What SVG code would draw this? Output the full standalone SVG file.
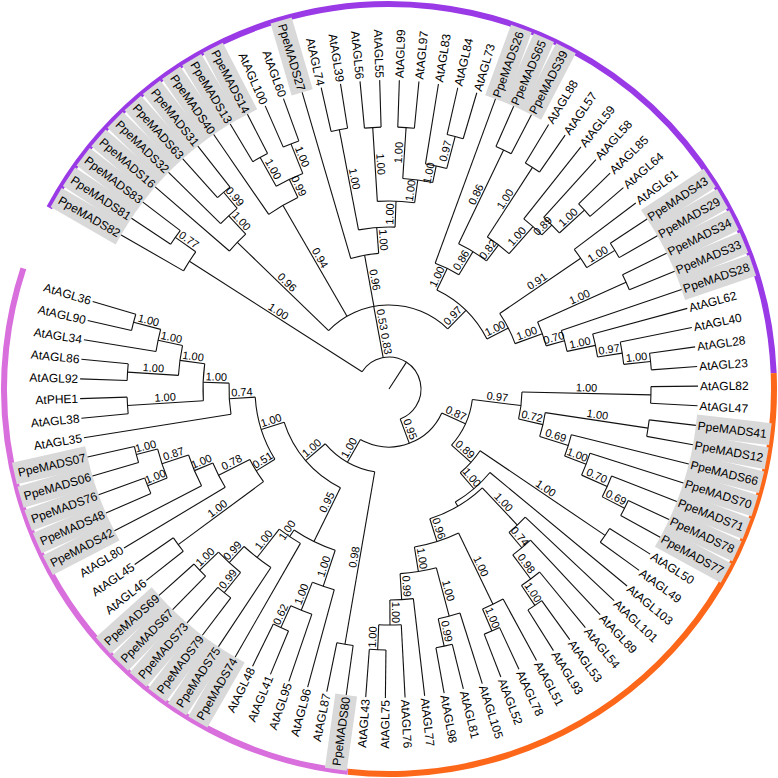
<svg xmlns="http://www.w3.org/2000/svg" width="778" height="778" viewBox="0 0 778 778">
<style>
.k circle,.k line{fill:none;stroke:#111;stroke-width:1.1}
.ring{fill:none;stroke-width:6}
.lf{font-family:"Liberation Sans",Arial,sans-serif;font-size:12px;fill:#000}
.bx{fill:#d9d9d9}
.s{font-family:"Liberation Sans",Arial,sans-serif;font-size:11px;text-anchor:middle;fill:#000}
</style>
<rect width="778" height="778" fill="#fff"/>
<g transform="translate(389,389)">
<g id="ring">
<circle class="ring" r="385" stroke="#9a3ae6" transform="rotate(-151.92)" stroke-dasharray="149.56 999" pathLength="360"/>
<circle class="ring" r="385" stroke="#fc6719" transform="rotate(-2.36)" stroke-dasharray="98.5 999" pathLength="360"/>
<circle class="ring" r="385" stroke="#d86fdc" transform="rotate(96.14)" stroke-dasharray="102.14 999" pathLength="360"/>
</g>
<g id="boxes" class="bx">
<rect x="309" y="-11" width="75" height="22" transform="rotate(-150.1)"/>
<rect x="309" y="-11" width="75" height="22" transform="rotate(-146.45)"/>
<rect x="309" y="-11" width="75" height="22" transform="rotate(-142.8)"/>
<rect x="309" y="-11" width="75" height="22" transform="rotate(-139.16)"/>
<rect x="309" y="-11" width="75" height="22" transform="rotate(-135.51)"/>
<rect x="309" y="-11" width="75" height="22" transform="rotate(-131.86)"/>
<rect x="309" y="-11" width="75" height="22" transform="rotate(-128.21)"/>
<rect x="309" y="-11" width="75" height="22" transform="rotate(-124.56)"/>
<rect x="309" y="-11" width="75" height="22" transform="rotate(-120.92)"/>
<rect x="309" y="-11" width="75" height="22" transform="rotate(-117.27)"/>
<rect x="309" y="-11" width="75" height="22" transform="rotate(-106.32)"/>
<rect x="309" y="-11" width="75" height="22" transform="rotate(-69.84)"/>
<rect x="309" y="-11" width="75" height="22" transform="rotate(-66.2)"/>
<rect x="309" y="-11" width="75" height="22" transform="rotate(-62.55)"/>
<rect x="309" y="-11" width="75" height="22" transform="rotate(-33.36)"/>
<rect x="309" y="-11" width="75" height="22" transform="rotate(-29.72)"/>
<rect x="309" y="-11" width="75" height="22" transform="rotate(-26.07)"/>
<rect x="309" y="-11" width="75" height="22" transform="rotate(-22.42)"/>
<rect x="309" y="-11" width="75" height="22" transform="rotate(-18.77)"/>
<rect x="309" y="-11" width="75" height="22" transform="rotate(6.76)"/>
<rect x="309" y="-11" width="75" height="22" transform="rotate(10.41)"/>
<rect x="309" y="-11" width="75" height="22" transform="rotate(14.06)"/>
<rect x="309" y="-11" width="75" height="22" transform="rotate(17.71)"/>
<rect x="309" y="-11" width="75" height="22" transform="rotate(21.36)"/>
<rect x="309" y="-11" width="75" height="22" transform="rotate(25)"/>
<rect x="309" y="-11" width="75" height="22" transform="rotate(28.65)"/>
<rect x="309" y="-11" width="75" height="22" transform="rotate(97.96)"/>
<rect x="309" y="-11" width="75" height="22" transform="rotate(119.85)"/>
<rect x="309" y="-11" width="75" height="22" transform="rotate(123.5)"/>
<rect x="309" y="-11" width="75" height="22" transform="rotate(127.15)"/>
<rect x="309" y="-11" width="75" height="22" transform="rotate(130.8)"/>
<rect x="309" y="-11" width="75" height="22" transform="rotate(134.44)"/>
<rect x="309" y="-11" width="75" height="22" transform="rotate(138.09)"/>
<rect x="309" y="-11" width="75" height="22" transform="rotate(152.68)"/>
<rect x="309" y="-11" width="75" height="22" transform="rotate(156.33)"/>
<rect x="309" y="-11" width="75" height="22" transform="rotate(159.98)"/>
<rect x="309" y="-11" width="75" height="22" transform="rotate(163.63)"/>
<rect x="309" y="-11" width="75" height="22" transform="rotate(167.28)"/>
</g>
<g id="connectors" class="k">
<line x2="32" transform="rotate(-57)"/>
<circle r="32" transform="rotate(-147.37)" stroke-dasharray="216.87 999" pathLength="360"/>
<line x1="32" x2="237" transform="rotate(-147.37)"/>
<line x1="32" x2="84" transform="rotate(-100.48)"/>
<line x1="32" x2="58" transform="rotate(69.5)"/>
<circle r="237" transform="rotate(-150.1)" stroke-dasharray="5.47 999" pathLength="360"/>
<line x1="237" x2="309" transform="rotate(-150.1)"/>
<line x1="237" x2="262" transform="rotate(-144.63)"/>
<circle r="262" transform="rotate(-146.45)" stroke-dasharray="3.65 999" pathLength="360"/>
<line x1="262" x2="309" transform="rotate(-146.45)"/>
<line x1="262" x2="309" transform="rotate(-142.8)"/>
<circle r="84" transform="rotate(-135.96)" stroke-dasharray="90.34 999" pathLength="360"/>
<line x1="84" x2="211" transform="rotate(-135.96)"/>
<line x1="84" x2="212" transform="rotate(-120)"/>
<line x1="84" x2="136" transform="rotate(-100.34)"/>
<line x1="84" x2="110" transform="rotate(-45.62)"/>
<circle r="211" transform="rotate(-139.16)" stroke-dasharray="6.39 999" pathLength="360"/>
<line x1="211" x2="309" transform="rotate(-139.16)"/>
<line x1="211" x2="236" transform="rotate(-132.77)"/>
<circle r="236" transform="rotate(-135.51)" stroke-dasharray="5.47 999" pathLength="360"/>
<line x1="236" x2="309" transform="rotate(-135.51)"/>
<line x1="236" x2="257" transform="rotate(-130.04)"/>
<circle r="257" transform="rotate(-131.86)" stroke-dasharray="3.65 999" pathLength="360"/>
<line x1="257" x2="309" transform="rotate(-131.86)"/>
<line x1="257" x2="309" transform="rotate(-128.21)"/>
<circle r="212" transform="rotate(-124.56)" stroke-dasharray="9.12 999" pathLength="360"/>
<line x1="212" x2="309" transform="rotate(-124.56)"/>
<line x1="212" x2="232" transform="rotate(-115.44)"/>
<circle r="232" transform="rotate(-119.09)" stroke-dasharray="7.3 999" pathLength="360"/>
<line x1="232" x2="265" transform="rotate(-119.09)"/>
<line x1="232" x2="264" transform="rotate(-111.8)"/>
<circle r="265" transform="rotate(-120.92)" stroke-dasharray="3.65 999" pathLength="360"/>
<line x1="265" x2="309" transform="rotate(-120.92)"/>
<line x1="265" x2="309" transform="rotate(-117.27)"/>
<circle r="264" transform="rotate(-113.62)" stroke-dasharray="3.65 999" pathLength="360"/>
<line x1="264" x2="309" transform="rotate(-113.62)"/>
<line x1="264" x2="309" transform="rotate(-109.97)"/>
<circle r="136" transform="rotate(-106.32)" stroke-dasharray="11.97 999" pathLength="360"/>
<line x1="136" x2="309" transform="rotate(-106.32)"/>
<line x1="136" x2="162" transform="rotate(-94.35)"/>
<circle r="162" transform="rotate(-100.85)" stroke-dasharray="13 999" pathLength="360"/>
<line x1="162" x2="264" transform="rotate(-100.85)"/>
<line x1="162" x2="188" transform="rotate(-87.86)"/>
<circle r="264" transform="rotate(-102.68)" stroke-dasharray="3.65 999" pathLength="360"/>
<line x1="264" x2="309" transform="rotate(-102.68)"/>
<line x1="264" x2="309" transform="rotate(-99.03)"/>
<circle r="188" transform="rotate(-93.56)" stroke-dasharray="11.4 999" pathLength="360"/>
<line x1="188" x2="262" transform="rotate(-93.56)"/>
<line x1="188" x2="211" transform="rotate(-82.16)"/>
<circle r="262" transform="rotate(-95.38)" stroke-dasharray="3.65 999" pathLength="360"/>
<line x1="262" x2="309" transform="rotate(-95.38)"/>
<line x1="262" x2="309" transform="rotate(-91.73)"/>
<circle r="211" transform="rotate(-86.26)" stroke-dasharray="8.21 999" pathLength="360"/>
<line x1="211" x2="262" transform="rotate(-86.26)"/>
<line x1="211" x2="228" transform="rotate(-78.05)"/>
<circle r="262" transform="rotate(-88.08)" stroke-dasharray="3.65 999" pathLength="360"/>
<line x1="262" x2="309" transform="rotate(-88.08)"/>
<line x1="262" x2="309" transform="rotate(-84.44)"/>
<circle r="228" transform="rotate(-80.79)" stroke-dasharray="5.47 999" pathLength="360"/>
<line x1="228" x2="309" transform="rotate(-80.79)"/>
<line x1="228" x2="261" transform="rotate(-75.32)"/>
<circle r="261" transform="rotate(-77.14)" stroke-dasharray="3.65 999" pathLength="360"/>
<line x1="261" x2="309" transform="rotate(-77.14)"/>
<line x1="261" x2="309" transform="rotate(-73.49)"/>
<circle r="110" transform="rotate(-64.2)" stroke-dasharray="37.16 999" pathLength="360"/>
<line x1="110" x2="134" transform="rotate(-64.2)"/>
<line x1="110" x2="134" transform="rotate(-27.04)"/>
<circle r="134" transform="rotate(-69.84)" stroke-dasharray="11.28 999" pathLength="360"/>
<line x1="134" x2="309" transform="rotate(-69.84)"/>
<line x1="134" x2="161" transform="rotate(-58.56)"/>
<circle r="161" transform="rotate(-64.38)" stroke-dasharray="11.63 999" pathLength="360"/>
<line x1="161" x2="265" transform="rotate(-64.38)"/>
<line x1="161" x2="181" transform="rotate(-52.74)"/>
<circle r="265" transform="rotate(-66.2)" stroke-dasharray="3.65 999" pathLength="360"/>
<line x1="265" x2="309" transform="rotate(-66.2)"/>
<line x1="265" x2="309" transform="rotate(-62.55)"/>
<circle r="181" transform="rotate(-57.08)" stroke-dasharray="8.66 999" pathLength="360"/>
<line x1="181" x2="264" transform="rotate(-57.08)"/>
<line x1="181" x2="217" transform="rotate(-48.41)"/>
<circle r="264" transform="rotate(-58.9)" stroke-dasharray="3.65 999" pathLength="360"/>
<line x1="264" x2="309" transform="rotate(-58.9)"/>
<line x1="264" x2="309" transform="rotate(-55.25)"/>
<circle r="217" transform="rotate(-51.6)" stroke-dasharray="6.38 999" pathLength="360"/>
<line x1="217" x2="309" transform="rotate(-51.6)"/>
<line x1="217" x2="231" transform="rotate(-45.22)"/>
<circle r="231" transform="rotate(-47.96)" stroke-dasharray="5.47 999" pathLength="360"/>
<line x1="231" x2="309" transform="rotate(-47.96)"/>
<line x1="231" x2="265" transform="rotate(-42.48)"/>
<circle r="265" transform="rotate(-44.31)" stroke-dasharray="3.65 999" pathLength="360"/>
<line x1="265" x2="309" transform="rotate(-44.31)"/>
<line x1="265" x2="309" transform="rotate(-40.66)"/>
<circle r="134" transform="rotate(-34.28)" stroke-dasharray="14.48 999" pathLength="360"/>
<line x1="134" x2="232" transform="rotate(-34.28)"/>
<line x1="134" x2="163" transform="rotate(-19.8)"/>
<circle r="232" transform="rotate(-37.01)" stroke-dasharray="5.47 999" pathLength="360"/>
<line x1="232" x2="309" transform="rotate(-37.01)"/>
<line x1="232" x2="265" transform="rotate(-31.54)"/>
<circle r="265" transform="rotate(-33.36)" stroke-dasharray="3.65 999" pathLength="360"/>
<line x1="265" x2="309" transform="rotate(-33.36)"/>
<line x1="265" x2="309" transform="rotate(-29.72)"/>
<circle r="163" transform="rotate(-24.24)" stroke-dasharray="8.89 999" pathLength="360"/>
<line x1="163" x2="260" transform="rotate(-24.24)"/>
<line x1="163" x2="182" transform="rotate(-15.35)"/>
<circle r="260" transform="rotate(-26.07)" stroke-dasharray="3.65 999" pathLength="360"/>
<line x1="260" x2="309" transform="rotate(-26.07)"/>
<line x1="260" x2="309" transform="rotate(-22.42)"/>
<circle r="182" transform="rotate(-18.77)" stroke-dasharray="6.84 999" pathLength="360"/>
<line x1="182" x2="309" transform="rotate(-18.77)"/>
<line x1="182" x2="211" transform="rotate(-11.93)"/>
<circle r="211" transform="rotate(-15.12)" stroke-dasharray="6.38 999" pathLength="360"/>
<line x1="211" x2="309" transform="rotate(-15.12)"/>
<line x1="211" x2="236" transform="rotate(-8.74)"/>
<circle r="236" transform="rotate(-11.48)" stroke-dasharray="5.47 999" pathLength="360"/>
<line x1="236" x2="309" transform="rotate(-11.48)"/>
<line x1="236" x2="263" transform="rotate(-6)"/>
<circle r="263" transform="rotate(-7.83)" stroke-dasharray="3.65 999" pathLength="360"/>
<line x1="263" x2="309" transform="rotate(-7.83)"/>
<line x1="263" x2="309" transform="rotate(-4.18)"/>
<circle r="58" transform="rotate(24.51)" stroke-dasharray="95.04 999" pathLength="360"/>
<line x1="58" x2="84" transform="rotate(24.51)"/>
<line x1="58" x2="84" transform="rotate(119.55)"/>
<circle r="84" transform="rotate(7.16)" stroke-dasharray="34.7 999" pathLength="360"/>
<line x1="84" x2="133" transform="rotate(7.16)"/>
<line x1="84" x2="110" transform="rotate(41.86)"/>
<circle r="133" transform="rotate(1.29)" stroke-dasharray="11.74 999" pathLength="360"/>
<line x1="133" x2="262" transform="rotate(1.29)"/>
<line x1="133" x2="158" transform="rotate(13.03)"/>
<circle r="262" transform="rotate(-0.53)" stroke-dasharray="3.65 999" pathLength="360"/>
<line x1="262" x2="309" transform="rotate(-0.53)"/>
<line x1="262" x2="309" transform="rotate(3.12)"/>
<circle r="158" transform="rotate(8.59)" stroke-dasharray="8.89 999" pathLength="360"/>
<line x1="158" x2="262" transform="rotate(8.59)"/>
<line x1="158" x2="188" transform="rotate(17.48)"/>
<circle r="262" transform="rotate(6.76)" stroke-dasharray="3.65 999" pathLength="360"/>
<line x1="262" x2="309" transform="rotate(6.76)"/>
<line x1="262" x2="309" transform="rotate(10.41)"/>
<circle r="188" transform="rotate(14.06)" stroke-dasharray="6.84 999" pathLength="360"/>
<line x1="188" x2="309" transform="rotate(14.06)"/>
<line x1="188" x2="211" transform="rotate(20.9)"/>
<circle r="211" transform="rotate(17.71)" stroke-dasharray="6.38 999" pathLength="360"/>
<line x1="211" x2="309" transform="rotate(17.71)"/>
<line x1="211" x2="239" transform="rotate(24.09)"/>
<circle r="239" transform="rotate(21.36)" stroke-dasharray="5.47 999" pathLength="360"/>
<line x1="239" x2="309" transform="rotate(21.36)"/>
<line x1="239" x2="264" transform="rotate(26.83)"/>
<circle r="264" transform="rotate(25)" stroke-dasharray="3.65 999" pathLength="360"/>
<line x1="264" x2="309" transform="rotate(25)"/>
<line x1="264" x2="309" transform="rotate(28.65)"/>
<circle r="110" transform="rotate(34.12)" stroke-dasharray="15.48 999" pathLength="360"/>
<line x1="110" x2="261" transform="rotate(34.12)"/>
<line x1="110" x2="131" transform="rotate(49.6)"/>
<circle r="261" transform="rotate(32.3)" stroke-dasharray="3.65 999" pathLength="360"/>
<line x1="261" x2="309" transform="rotate(32.3)"/>
<line x1="261" x2="309" transform="rotate(35.95)"/>
<circle r="131" transform="rotate(39.6)" stroke-dasharray="20 999" pathLength="360"/>
<line x1="131" x2="309" transform="rotate(39.6)"/>
<line x1="131" x2="136" transform="rotate(59.6)"/>
<circle r="136" transform="rotate(46.66)" stroke-dasharray="25.88 999" pathLength="360"/>
<line x1="136" x2="187" transform="rotate(46.66)"/>
<line x1="136" x2="160" transform="rotate(72.54)"/>
<circle r="187" transform="rotate(43.24)" stroke-dasharray="6.84 999" pathLength="360"/>
<line x1="187" x2="309" transform="rotate(43.24)"/>
<line x1="187" x2="207" transform="rotate(50.08)"/>
<circle r="207" transform="rotate(46.89)" stroke-dasharray="6.38 999" pathLength="360"/>
<line x1="207" x2="309" transform="rotate(46.89)"/>
<line x1="207" x2="237" transform="rotate(53.28)"/>
<circle r="237" transform="rotate(50.54)" stroke-dasharray="5.47 999" pathLength="360"/>
<line x1="237" x2="309" transform="rotate(50.54)"/>
<line x1="237" x2="261" transform="rotate(56.01)"/>
<circle r="261" transform="rotate(54.19)" stroke-dasharray="3.65 999" pathLength="360"/>
<line x1="261" x2="309" transform="rotate(54.19)"/>
<line x1="261" x2="309" transform="rotate(57.84)"/>
<circle r="160" transform="rotate(64.22)" stroke-dasharray="16.64 999" pathLength="360"/>
<line x1="160" x2="239" transform="rotate(64.22)"/>
<line x1="160" x2="185" transform="rotate(80.86)"/>
<circle r="239" transform="rotate(61.48)" stroke-dasharray="5.47 999" pathLength="360"/>
<line x1="239" x2="309" transform="rotate(61.48)"/>
<line x1="239" x2="263" transform="rotate(66.96)"/>
<circle r="263" transform="rotate(65.13)" stroke-dasharray="3.65 999" pathLength="360"/>
<line x1="263" x2="309" transform="rotate(65.13)"/>
<line x1="263" x2="309" transform="rotate(68.78)"/>
<circle r="185" transform="rotate(75.16)" stroke-dasharray="11.4 999" pathLength="360"/>
<line x1="185" x2="235" transform="rotate(75.16)"/>
<line x1="185" x2="211" transform="rotate(86.56)"/>
<circle r="235" transform="rotate(72.43)" stroke-dasharray="5.47 999" pathLength="360"/>
<line x1="235" x2="309" transform="rotate(72.43)"/>
<line x1="235" x2="263" transform="rotate(77.9)"/>
<circle r="263" transform="rotate(76.08)" stroke-dasharray="3.65 999" pathLength="360"/>
<line x1="263" x2="309" transform="rotate(76.08)"/>
<line x1="263" x2="309" transform="rotate(79.72)"/>
<circle r="211" transform="rotate(83.37)" stroke-dasharray="6.38 999" pathLength="360"/>
<line x1="211" x2="309" transform="rotate(83.37)"/>
<line x1="211" x2="236" transform="rotate(89.76)"/>
<circle r="236" transform="rotate(87.02)" stroke-dasharray="5.47 999" pathLength="360"/>
<line x1="236" x2="309" transform="rotate(87.02)"/>
<line x1="236" x2="261" transform="rotate(92.49)"/>
<circle r="261" transform="rotate(90.67)" stroke-dasharray="3.65 999" pathLength="360"/>
<line x1="261" x2="309" transform="rotate(90.67)"/>
<line x1="261" x2="309" transform="rotate(94.32)"/>
<circle r="84" transform="rotate(99.79)" stroke-dasharray="39.53 999" pathLength="360"/>
<line x1="84" x2="259" transform="rotate(99.79)"/>
<line x1="84" x2="110" transform="rotate(139.32)"/>
<circle r="259" transform="rotate(97.96)" stroke-dasharray="3.65 999" pathLength="360"/>
<line x1="259" x2="309" transform="rotate(97.96)"/>
<line x1="259" x2="309" transform="rotate(101.61)"/>
<circle r="110" transform="rotate(116.2)" stroke-dasharray="46.23 999" pathLength="360"/>
<line x1="110" x2="170" transform="rotate(116.2)"/>
<line x1="110" x2="134" transform="rotate(162.43)"/>
<circle r="170" transform="rotate(108.45)" stroke-dasharray="15.5 999" pathLength="360"/>
<line x1="170" x2="208" transform="rotate(108.45)"/>
<line x1="170" x2="178" transform="rotate(123.96)"/>
<circle r="208" transform="rotate(105.26)" stroke-dasharray="6.38 999" pathLength="360"/>
<line x1="208" x2="309" transform="rotate(105.26)"/>
<line x1="208" x2="238" transform="rotate(111.64)"/>
<circle r="238" transform="rotate(108.91)" stroke-dasharray="5.47 999" pathLength="360"/>
<line x1="238" x2="309" transform="rotate(108.91)"/>
<line x1="238" x2="262" transform="rotate(114.38)"/>
<circle r="262" transform="rotate(112.56)" stroke-dasharray="3.65 999" pathLength="360"/>
<line x1="262" x2="309" transform="rotate(112.56)"/>
<line x1="262" x2="309" transform="rotate(116.2)"/>
<circle r="178" transform="rotate(119.85)" stroke-dasharray="8.21 999" pathLength="360"/>
<line x1="178" x2="309" transform="rotate(119.85)"/>
<line x1="178" x2="214" transform="rotate(128.06)"/>
<circle r="214" transform="rotate(123.5)" stroke-dasharray="9.12 999" pathLength="360"/>
<line x1="214" x2="309" transform="rotate(123.5)"/>
<line x1="214" x2="236" transform="rotate(132.62)"/>
<circle r="236" transform="rotate(128.97)" stroke-dasharray="7.3 999" pathLength="360"/>
<line x1="236" x2="262" transform="rotate(128.97)"/>
<line x1="236" x2="262" transform="rotate(136.27)"/>
<circle r="262" transform="rotate(127.15)" stroke-dasharray="3.65 999" pathLength="360"/>
<line x1="262" x2="309" transform="rotate(127.15)"/>
<line x1="262" x2="309" transform="rotate(130.8)"/>
<circle r="262" transform="rotate(134.44)" stroke-dasharray="3.65 999" pathLength="360"/>
<line x1="262" x2="309" transform="rotate(134.44)"/>
<line x1="262" x2="309" transform="rotate(138.09)"/>
<circle r="134" transform="rotate(148.35)" stroke-dasharray="28.16 999" pathLength="360"/>
<line x1="134" x2="156" transform="rotate(148.35)"/>
<line x1="134" x2="160" transform="rotate(176.51)"/>
<circle r="156" transform="rotate(143.56)" stroke-dasharray="9.58 999" pathLength="360"/>
<line x1="156" x2="262" transform="rotate(143.56)"/>
<line x1="156" x2="191" transform="rotate(153.14)"/>
<circle r="262" transform="rotate(141.74)" stroke-dasharray="3.65 999" pathLength="360"/>
<line x1="262" x2="309" transform="rotate(141.74)"/>
<line x1="262" x2="309" transform="rotate(145.39)"/>
<circle r="191" transform="rotate(149.04)" stroke-dasharray="8.21 999" pathLength="360"/>
<line x1="191" x2="309" transform="rotate(149.04)"/>
<line x1="191" x2="211" transform="rotate(157.24)"/>
<circle r="211" transform="rotate(152.68)" stroke-dasharray="9.12 999" pathLength="360"/>
<line x1="211" x2="309" transform="rotate(152.68)"/>
<line x1="211" x2="239" transform="rotate(161.8)"/>
<circle r="239" transform="rotate(158.16)" stroke-dasharray="7.3 999" pathLength="360"/>
<line x1="239" x2="260" transform="rotate(158.16)"/>
<line x1="239" x2="261" transform="rotate(165.45)"/>
<circle r="260" transform="rotate(156.33)" stroke-dasharray="3.65 999" pathLength="360"/>
<line x1="260" x2="309" transform="rotate(156.33)"/>
<line x1="260" x2="309" transform="rotate(159.98)"/>
<circle r="261" transform="rotate(163.63)" stroke-dasharray="3.65 999" pathLength="360"/>
<line x1="261" x2="309" transform="rotate(163.63)"/>
<line x1="261" x2="309" transform="rotate(167.28)"/>
<circle r="160" transform="rotate(170.92)" stroke-dasharray="11.17 999" pathLength="360"/>
<line x1="160" x2="309" transform="rotate(170.92)"/>
<line x1="160" x2="186" transform="rotate(182.1)"/>
<circle r="186" transform="rotate(176.4)" stroke-dasharray="11.4 999" pathLength="360"/>
<line x1="186" x2="262" transform="rotate(176.4)"/>
<line x1="186" x2="211" transform="rotate(187.8)"/>
<circle r="262" transform="rotate(174.57)" stroke-dasharray="3.65 999" pathLength="360"/>
<line x1="262" x2="309" transform="rotate(174.57)"/>
<line x1="262" x2="309" transform="rotate(178.22)"/>
<circle r="211" transform="rotate(183.69)" stroke-dasharray="8.21 999" pathLength="360"/>
<line x1="211" x2="262" transform="rotate(183.69)"/>
<line x1="211" x2="236" transform="rotate(191.9)"/>
<circle r="262" transform="rotate(181.87)" stroke-dasharray="3.65 999" pathLength="360"/>
<line x1="262" x2="309" transform="rotate(181.87)"/>
<line x1="262" x2="309" transform="rotate(185.52)"/>
<circle r="236" transform="rotate(189.16)" stroke-dasharray="5.47 999" pathLength="360"/>
<line x1="236" x2="309" transform="rotate(189.16)"/>
<line x1="236" x2="264" transform="rotate(194.64)"/>
<circle r="264" transform="rotate(192.81)" stroke-dasharray="3.65 999" pathLength="360"/>
<line x1="264" x2="309" transform="rotate(192.81)"/>
<line x1="264" x2="309" transform="rotate(196.46)"/>
</g>
<g id="leaves" class="lf">
<g id="n-PpeMADS82"><text x="-311" dy=".35em" text-anchor="end" transform="rotate(29.9)">PpeMADS82</text></g>
<g id="n-PpeMADS81"><text x="-311" dy=".35em" text-anchor="end" transform="rotate(33.55)">PpeMADS81</text></g>
<g id="n-PpeMADS83"><text x="-311" dy=".35em" text-anchor="end" transform="rotate(37.2)">PpeMADS83</text></g>
<g id="n-PpeMADS16"><text x="-311" dy=".35em" text-anchor="end" transform="rotate(40.84)">PpeMADS16</text></g>
<g id="n-PpeMADS32"><text x="-311" dy=".35em" text-anchor="end" transform="rotate(44.49)">PpeMADS32</text></g>
<g id="n-PpeMADS63"><text x="-311" dy=".35em" text-anchor="end" transform="rotate(48.14)">PpeMADS63</text></g>
<g id="n-PpeMADS31"><text x="-311" dy=".35em" text-anchor="end" transform="rotate(51.79)">PpeMADS31</text></g>
<g id="n-PpeMADS40"><text x="-311" dy=".35em" text-anchor="end" transform="rotate(55.44)">PpeMADS40</text></g>
<g id="n-PpeMADS13"><text x="-311" dy=".35em" text-anchor="end" transform="rotate(59.08)">PpeMADS13</text></g>
<g id="n-PpeMADS14"><text x="-311" dy=".35em" text-anchor="end" transform="rotate(62.73)">PpeMADS14</text></g>
<g id="n-AtAGL100"><text x="-311" dy=".35em" text-anchor="end" transform="rotate(66.38)">AtAGL100</text></g>
<g id="n-AtAGL60"><text x="-311" dy=".35em" text-anchor="end" transform="rotate(70.03)">AtAGL60</text></g>
<g id="n-PpeMADS27"><text x="-311" dy=".35em" text-anchor="end" transform="rotate(73.68)">PpeMADS27</text></g>
<g id="n-AtAGL74"><text x="-311" dy=".35em" text-anchor="end" transform="rotate(77.32)">AtAGL74</text></g>
<g id="n-AtAGL39"><text x="-311" dy=".35em" text-anchor="end" transform="rotate(80.97)">AtAGL39</text></g>
<g id="n-AtAGL56"><text x="-311" dy=".35em" text-anchor="end" transform="rotate(84.62)">AtAGL56</text></g>
<g id="n-AtAGL55"><text x="-311" dy=".35em" text-anchor="end" transform="rotate(88.27)">AtAGL55</text></g>
<g id="n-AtAGL99"><text x="311" dy=".35em" transform="rotate(-88.08)">AtAGL99</text></g>
<g id="n-AtAGL97"><text x="311" dy=".35em" transform="rotate(-84.44)">AtAGL97</text></g>
<g id="n-AtAGL83"><text x="311" dy=".35em" transform="rotate(-80.79)">AtAGL83</text></g>
<g id="n-AtAGL84"><text x="311" dy=".35em" transform="rotate(-77.14)">AtAGL84</text></g>
<g id="n-AtAGL73"><text x="311" dy=".35em" transform="rotate(-73.49)">AtAGL73</text></g>
<g id="n-PpeMADS26"><text x="311" dy=".35em" transform="rotate(-69.84)">PpeMADS26</text></g>
<g id="n-PpeMADS65"><text x="311" dy=".35em" transform="rotate(-66.2)">PpeMADS65</text></g>
<g id="n-PpeMADS39"><text x="311" dy=".35em" transform="rotate(-62.55)">PpeMADS39</text></g>
<g id="n-AtAGL88"><text x="311" dy=".35em" transform="rotate(-58.9)">AtAGL88</text></g>
<g id="n-AtAGL57"><text x="311" dy=".35em" transform="rotate(-55.25)">AtAGL57</text></g>
<g id="n-AtAGL59"><text x="311" dy=".35em" transform="rotate(-51.6)">AtAGL59</text></g>
<g id="n-AtAGL58"><text x="311" dy=".35em" transform="rotate(-47.96)">AtAGL58</text></g>
<g id="n-AtAGL85"><text x="311" dy=".35em" transform="rotate(-44.31)">AtAGL85</text></g>
<g id="n-AtAGL64"><text x="311" dy=".35em" transform="rotate(-40.66)">AtAGL64</text></g>
<g id="n-AtAGL61"><text x="311" dy=".35em" transform="rotate(-37.01)">AtAGL61</text></g>
<g id="n-PpeMADS43"><text x="311" dy=".35em" transform="rotate(-33.36)">PpeMADS43</text></g>
<g id="n-PpeMADS29"><text x="311" dy=".35em" transform="rotate(-29.72)">PpeMADS29</text></g>
<g id="n-PpeMADS34"><text x="311" dy=".35em" transform="rotate(-26.07)">PpeMADS34</text></g>
<g id="n-PpeMADS33"><text x="311" dy=".35em" transform="rotate(-22.42)">PpeMADS33</text></g>
<g id="n-PpeMADS28"><text x="311" dy=".35em" transform="rotate(-18.77)">PpeMADS28</text></g>
<g id="n-AtAGL62"><text x="311" dy=".35em" transform="rotate(-15.12)">AtAGL62</text></g>
<g id="n-AtAGL40"><text x="311" dy=".35em" transform="rotate(-11.48)">AtAGL40</text></g>
<g id="n-AtAGL28"><text x="311" dy=".35em" transform="rotate(-7.83)">AtAGL28</text></g>
<g id="n-AtAGL23"><text x="311" dy=".35em" transform="rotate(-4.18)">AtAGL23</text></g>
<g id="n-AtAGL82"><text x="311" dy=".35em" transform="rotate(-0.53)">AtAGL82</text></g>
<g id="n-AtAGL47"><text x="311" dy=".35em" transform="rotate(3.12)">AtAGL47</text></g>
<g id="n-PpeMADS41"><text x="311" dy=".35em" transform="rotate(6.76)">PpeMADS41</text></g>
<g id="n-PpeMADS12"><text x="311" dy=".35em" transform="rotate(10.41)">PpeMADS12</text></g>
<g id="n-PpeMADS66"><text x="311" dy=".35em" transform="rotate(14.06)">PpeMADS66</text></g>
<g id="n-PpeMADS70"><text x="311" dy=".35em" transform="rotate(17.71)">PpeMADS70</text></g>
<g id="n-PpeMADS71"><text x="311" dy=".35em" transform="rotate(21.36)">PpeMADS71</text></g>
<g id="n-PpeMADS78"><text x="311" dy=".35em" transform="rotate(25)">PpeMADS78</text></g>
<g id="n-PpeMADS77"><text x="311" dy=".35em" transform="rotate(28.65)">PpeMADS77</text></g>
<g id="n-AtAGL50"><text x="311" dy=".35em" transform="rotate(32.3)">AtAGL50</text></g>
<g id="n-AtAGL49"><text x="311" dy=".35em" transform="rotate(35.95)">AtAGL49</text></g>
<g id="n-AtAGL103"><text x="311" dy=".35em" transform="rotate(39.6)">AtAGL103</text></g>
<g id="n-AtAGL101"><text x="311" dy=".35em" transform="rotate(43.24)">AtAGL101</text></g>
<g id="n-AtAGL89"><text x="311" dy=".35em" transform="rotate(46.89)">AtAGL89</text></g>
<g id="n-AtAGL54"><text x="311" dy=".35em" transform="rotate(50.54)">AtAGL54</text></g>
<g id="n-AtAGL53"><text x="311" dy=".35em" transform="rotate(54.19)">AtAGL53</text></g>
<g id="n-AtAGL93"><text x="311" dy=".35em" transform="rotate(57.84)">AtAGL93</text></g>
<g id="n-AtAGL51"><text x="311" dy=".35em" transform="rotate(61.48)">AtAGL51</text></g>
<g id="n-AtAGL78"><text x="311" dy=".35em" transform="rotate(65.13)">AtAGL78</text></g>
<g id="n-AtAGL52"><text x="311" dy=".35em" transform="rotate(68.78)">AtAGL52</text></g>
<g id="n-AtAGL105"><text x="311" dy=".35em" transform="rotate(72.43)">AtAGL105</text></g>
<g id="n-AtAGL81"><text x="311" dy=".35em" transform="rotate(76.08)">AtAGL81</text></g>
<g id="n-AtAGL98"><text x="311" dy=".35em" transform="rotate(79.72)">AtAGL98</text></g>
<g id="n-AtAGL77"><text x="311" dy=".35em" transform="rotate(83.37)">AtAGL77</text></g>
<g id="n-AtAGL76"><text x="311" dy=".35em" transform="rotate(87.02)">AtAGL76</text></g>
<g id="n-AtAGL75"><text x="-311" dy=".35em" text-anchor="end" transform="rotate(270.67)">AtAGL75</text></g>
<g id="n-AtAGL43"><text x="-311" dy=".35em" text-anchor="end" transform="rotate(274.32)">AtAGL43</text></g>
<g id="n-PpeMADS80"><text x="-311" dy=".35em" text-anchor="end" transform="rotate(277.96)">PpeMADS80</text></g>
<g id="n-AtAGL87"><text x="-311" dy=".35em" text-anchor="end" transform="rotate(281.61)">AtAGL87</text></g>
<g id="n-AtAGL96"><text x="-311" dy=".35em" text-anchor="end" transform="rotate(285.26)">AtAGL96</text></g>
<g id="n-AtAGL95"><text x="-311" dy=".35em" text-anchor="end" transform="rotate(288.91)">AtAGL95</text></g>
<g id="n-AtAGL41"><text x="-311" dy=".35em" text-anchor="end" transform="rotate(292.56)">AtAGL41</text></g>
<g id="n-AtAGL48"><text x="-311" dy=".35em" text-anchor="end" transform="rotate(296.2)">AtAGL48</text></g>
<g id="n-PpeMADS74"><text x="-311" dy=".35em" text-anchor="end" transform="rotate(299.85)">PpeMADS74</text></g>
<g id="n-PpeMADS75"><text x="-311" dy=".35em" text-anchor="end" transform="rotate(303.5)">PpeMADS75</text></g>
<g id="n-PpeMADS79"><text x="-311" dy=".35em" text-anchor="end" transform="rotate(307.15)">PpeMADS79</text></g>
<g id="n-PpeMADS73"><text x="-311" dy=".35em" text-anchor="end" transform="rotate(310.8)">PpeMADS73</text></g>
<g id="n-PpeMADS67"><text x="-311" dy=".35em" text-anchor="end" transform="rotate(314.44)">PpeMADS67</text></g>
<g id="n-PpeMADS69"><text x="-311" dy=".35em" text-anchor="end" transform="rotate(318.09)">PpeMADS69</text></g>
<g id="n-AtAGL46"><text x="-311" dy=".35em" text-anchor="end" transform="rotate(321.74)">AtAGL46</text></g>
<g id="n-AtAGL45"><text x="-311" dy=".35em" text-anchor="end" transform="rotate(325.39)">AtAGL45</text></g>
<g id="n-AtAGL80"><text x="-311" dy=".35em" text-anchor="end" transform="rotate(329.04)">AtAGL80</text></g>
<g id="n-PpeMADS42"><text x="-311" dy=".35em" text-anchor="end" transform="rotate(332.68)">PpeMADS42</text></g>
<g id="n-PpeMADS48"><text x="-311" dy=".35em" text-anchor="end" transform="rotate(336.33)">PpeMADS48</text></g>
<g id="n-PpeMADS76"><text x="-311" dy=".35em" text-anchor="end" transform="rotate(339.98)">PpeMADS76</text></g>
<g id="n-PpeMADS06"><text x="-311" dy=".35em" text-anchor="end" transform="rotate(343.63)">PpeMADS06</text></g>
<g id="n-PpeMADS07"><text x="-311" dy=".35em" text-anchor="end" transform="rotate(347.28)">PpeMADS07</text></g>
<g id="n-AtAGL35"><text x="-311" dy=".35em" text-anchor="end" transform="rotate(350.92)">AtAGL35</text></g>
<g id="n-AtAGL38"><text x="-311" dy=".35em" text-anchor="end" transform="rotate(354.57)">AtAGL38</text></g>
<g id="n-AtPHE1"><text x="-311" dy=".35em" text-anchor="end" transform="rotate(358.22)">AtPHE1</text></g>
<g id="n-AtAGL92"><text x="-311" dy=".35em" text-anchor="end" transform="rotate(361.87)">AtAGL92</text></g>
<g id="n-AtAGL86"><text x="-311" dy=".35em" text-anchor="end" transform="rotate(365.52)">AtAGL86</text></g>
<g id="n-AtAGL34"><text x="-311" dy=".35em" text-anchor="end" transform="rotate(369.16)">AtAGL34</text></g>
<g id="n-AtAGL90"><text x="-311" dy=".35em" text-anchor="end" transform="rotate(372.81)">AtAGL90</text></g>
<g id="n-AtAGL36"><text x="-311" dy=".35em" text-anchor="end" transform="rotate(376.46)">AtAGL36</text></g>
</g>
<g id="support" class="s">
<text y="-2" transform="rotate(-147.37) translate(135) rotate(180)">1.00</text>
<text y="-2" transform="rotate(-144.63) translate(249.5) rotate(180)">0.77</text>
<text y="-2" transform="rotate(-135.96) translate(147.5) rotate(180)">0.96</text>
<text y="-2" transform="rotate(-132.77) translate(223.5) rotate(180)">1.00</text>
<text y="-2" transform="rotate(-130.04) translate(246.5) rotate(180)">0.99</text>
<text y="-2" transform="rotate(-120) translate(148) rotate(180)">0.94</text>
<text y="-2" transform="rotate(-115.44) translate(222) rotate(180)">0.99</text>
<text y="-2" transform="rotate(-119.09) translate(248.5) rotate(180)">1.00</text>
<text y="-2" transform="rotate(-111.8) translate(248) rotate(180)">1.00</text>
<text y="-2" transform="rotate(-100.34) translate(110) rotate(180)">0.96</text>
<text y="-2" transform="rotate(-94.35) translate(149) rotate(180)">1.00</text>
<text y="-2" transform="rotate(-100.85) translate(213) rotate(180)">1.00</text>
<text y="-2" transform="rotate(-87.86) translate(175)">1.00</text>
<text y="-2" transform="rotate(-93.56) translate(225) rotate(180)">1.00</text>
<text y="-2" transform="rotate(-82.16) translate(199.5)">1.00</text>
<text y="-2" transform="rotate(-86.26) translate(236.5)">1.00</text>
<text y="-2" transform="rotate(-78.05) translate(219.5)">1.00</text>
<text y="-2" transform="rotate(-75.32) translate(244.5)">0.97</text>
<text y="-2" transform="rotate(-100.48) translate(69.5) rotate(180)">0.53</text>
<text y="-2" transform="rotate(-100.48) translate(45) rotate(180)">0.83</text>
<text y="-2" transform="rotate(-45.62) translate(97)">0.97</text>
<text y="-2" transform="rotate(-64.2) translate(122)">1.00</text>
<text y="-2" transform="rotate(-58.56) translate(147.5)">0.86</text>
<text y="-2" transform="rotate(-64.38) translate(213)">0.86</text>
<text y="-2" transform="rotate(-52.74) translate(171)">0.82</text>
<text y="-2" transform="rotate(-57.08) translate(222.5)">1.00</text>
<text y="-2" transform="rotate(-48.41) translate(199)">1.00</text>
<text y="-2" transform="rotate(-45.22) translate(224)">0.89</text>
<text y="-2" transform="rotate(-42.48) translate(248)">1.00</text>
<text y="-2" transform="rotate(-27.04) translate(122)">1.00</text>
<text y="-2" transform="rotate(-34.28) translate(183)">0.91</text>
<text y="-2" transform="rotate(-31.54) translate(248.5)">1.00</text>
<text y="-2" transform="rotate(-19.8) translate(148.5)">1.00</text>
<text y="-2" transform="rotate(-24.24) translate(211.5)">1.00</text>
<text y="-2" transform="rotate(-15.35) translate(172.5)">0.70</text>
<text y="-2" transform="rotate(-11.93) translate(196.5)">1.00</text>
<text y="-2" transform="rotate(-8.74) translate(223.5)">0.97</text>
<text y="-2" transform="rotate(-6) translate(249.5)">1.00</text>
<text y="-2" transform="rotate(69.5) translate(45)">0.95</text>
<text y="-2" transform="rotate(24.51) translate(71)">0.87</text>
<text y="-2" transform="rotate(7.16) translate(108.5)">0.97</text>
<text y="-2" transform="rotate(1.29) translate(197.5)">1.00</text>
<text y="-2" transform="rotate(13.03) translate(145.5)">0.72</text>
<text y="-2" transform="rotate(8.59) translate(210)">1.00</text>
<text y="-2" transform="rotate(17.48) translate(173)">0.69</text>
<text y="-2" transform="rotate(20.9) translate(199.5)">1.00</text>
<text y="-2" transform="rotate(24.09) translate(225)">0.70</text>
<text y="-2" transform="rotate(26.83) translate(251.5)">0.69</text>
<text y="-2" transform="rotate(41.86) translate(97)">0.89</text>
<text y="-2" transform="rotate(34.12) translate(185.5)">1.00</text>
<text y="-2" transform="rotate(49.6) translate(121)">1.00</text>
<text y="-2" transform="rotate(46.66) translate(161)">1.00</text>
<text y="-2" transform="rotate(50.08) translate(197)">0.74</text>
<text y="-2" transform="rotate(53.28) translate(222)">0.98</text>
<text y="-2" transform="rotate(56.01) translate(249)">1.00</text>
<text y="-2" transform="rotate(72.54) translate(148)">0.96</text>
<text y="-2" transform="rotate(64.22) translate(199.5)">1.00</text>
<text y="-2" transform="rotate(66.96) translate(251)">1.00</text>
<text y="-2" transform="rotate(80.86) translate(172.5)">1.00</text>
<text y="-2" transform="rotate(75.16) translate(210)">1.00</text>
<text y="-2" transform="rotate(77.9) translate(249)">0.99</text>
<text y="-2" transform="rotate(86.56) translate(198)">0.99</text>
<text y="-2" transform="rotate(89.76) translate(223.5)">1.00</text>
<text y="-2" transform="rotate(92.49) translate(248.5) rotate(180)">1.00</text>
<text y="-2" transform="rotate(119.55) translate(71) rotate(180)">1.00</text>
<text y="-2" transform="rotate(99.79) translate(171.5) rotate(180)">0.98</text>
<text y="-2" transform="rotate(139.32) translate(97) rotate(180)">1.00</text>
<text y="-2" transform="rotate(116.2) translate(129) rotate(180)">0.95</text>
<text y="-2" transform="rotate(108.45) translate(189) rotate(180)">1.00</text>
<text y="-2" transform="rotate(111.64) translate(223) rotate(180)">1.00</text>
<text y="-2" transform="rotate(114.38) translate(250) rotate(180)">0.62</text>
<text y="-2" transform="rotate(123.96) translate(174) rotate(180)">1.00</text>
<text y="-2" transform="rotate(128.06) translate(196) rotate(180)">1.00</text>
<text y="-2" transform="rotate(132.62) translate(225) rotate(180)">0.99</text>
<text y="-2" transform="rotate(128.97) translate(249) rotate(180)">0.99</text>
<text y="-2" transform="rotate(136.27) translate(249) rotate(180)">1.00</text>
<text y="-2" transform="rotate(162.43) translate(122) rotate(180)">1.00</text>
<text y="-2" transform="rotate(148.35) translate(145) rotate(180)">0.51</text>
<text y="-2" transform="rotate(143.56) translate(209) rotate(180)">1.00</text>
<text y="-2" transform="rotate(153.14) translate(173.5) rotate(180)">0.78</text>
<text y="-2" transform="rotate(157.24) translate(201) rotate(180)">1.00</text>
<text y="-2" transform="rotate(161.8) translate(225) rotate(180)">0.87</text>
<text y="-2" transform="rotate(158.16) translate(249.5) rotate(180)">1.00</text>
<text y="-2" transform="rotate(165.45) translate(250) rotate(180)">1.00</text>
<text y="-2" transform="rotate(176.51) translate(147) rotate(180)">0.74</text>
<text y="-2" transform="rotate(182.1) translate(173) rotate(180)">1.00</text>
<text y="-2" transform="rotate(176.4) translate(224) rotate(180)">1.00</text>
<text y="-2" transform="rotate(187.8) translate(198.5) rotate(180)">1.00</text>
<text y="-2" transform="rotate(183.69) translate(236.5) rotate(180)">1.00</text>
<text y="-2" transform="rotate(191.9) translate(223.5) rotate(180)">1.00</text>
<text y="-2" transform="rotate(194.64) translate(250) rotate(180)">1.00</text>
</g>
</g>
</svg>
